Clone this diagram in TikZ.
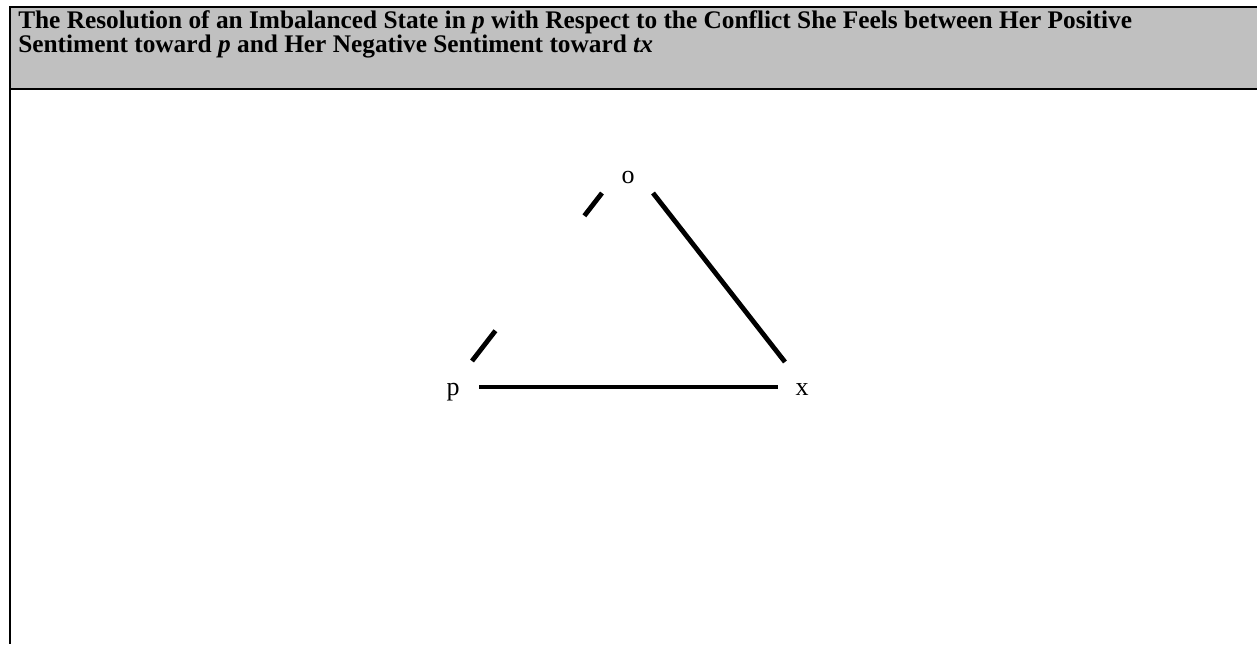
\documentclass[tikz,border=0pt]{standalone}
\usepackage{fontspec}
\setmainfont{Liberation Serif}
\usepackage{xcolor}
\definecolor{headgray}{RGB}{192,192,192}
\usetikzlibrary{positioning}

\begin{document}
\begin{tikzpicture}[
    x=0.75pt, y=-0.75pt,
    vertex/.style={anchor=base, inner sep=0pt, font=\fontsize{19.5}{20}\selectfont},
    heading/.style={anchor=north west, inner sep=0pt, align=left, font=\fontsize{19}{18.3}\selectfont\bfseries},
    bond/.style={line width=3.6pt, line cap=butt},
    negbond/.style={bond, dash pattern=on 28.7pt off 109pt},
    rule/.style={line width=1.5pt}
]
    \useasboundingbox (0,0) rectangle (1257,644);

    % Table frame with grey header
    \fill[headgray] (11,8) rectangle (1257,88);
    \draw[rule] (1257,7) -- (10,7) -- (10,644);
    \draw[rule] (10,89) -- (1257,89);
    \node[heading] (title) at (18,10) {The Resolution of an Imbalanced State in \textit{p} with Respect to the Conflict She Feels between Her Positive\\Sentiment toward \textit{p} and Her Negative Sentiment toward \textit{tx}};

    % Nodes
    \node[vertex] (o) at (628,183) {o};
    \node[vertex] (p) at (453,395) {p};
    \node[vertex] (x) at (802,395) {x};

    % Connections
    \draw[bond] ([shift={(26,-8)}]p.base) -- ([shift={(-24,-8)}]x.base);
    \draw[bond] ([shift={(25,10)}]o.base) -- ([shift={(-17,-33)}]x.base);
    \draw[negbond] ([shift={(19,-34)}]p.base) -- ([shift={(-26,10)}]o.base);
\end{tikzpicture}
\end{document}
